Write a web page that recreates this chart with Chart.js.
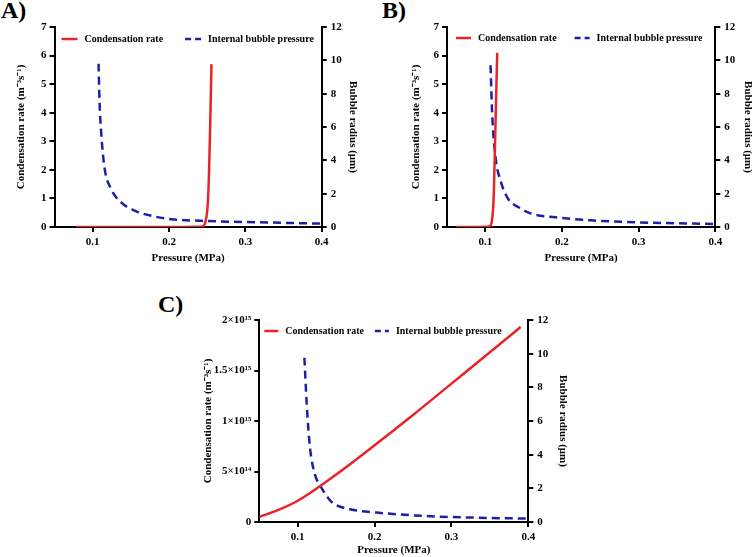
<!DOCTYPE html>
<html>
<head>
<meta charset="utf-8">
<script src="https://cdn.jsdelivr.net/npm/chart.js@4.4.1/dist/chart.umd.min.js"></script>
<style>
  body { margin: 0; width: 752px; height: 557px; overflow: hidden; background: #fff; position: relative; }
  canvas { position: absolute; }
  .tag { position: absolute; font: bold 24px "Liberation Serif", serif; color: #000; }
</style>
</head>
<body>
<div class="tag" style="left:1px;top:-3px">A)</div>
<div class="tag" style="left:382px;top:-3px">B)</div>
<div class="tag" style="left:158px;top:291px">C)</div>
<canvas id="chartA" width="376" height="270" style="left:0;top:0"></canvas>
<canvas id="chartB" width="390" height="270" style="left:376px;top:0"></canvas>
<canvas id="chartC" width="390" height="290" style="left:190px;top:270px"></canvas>
<script>
// pressure axis (MPa)
const xTicks = [0.1, 0.2, 0.3, 0.4];

// A) condensation rate and bubble radius
const aCondX = [0.078, 0.12, 0.16, 0.2, 0.235, 0.244, 0.247, 0.249, 0.251, 0.2525, 0.254, 0.2556];
const aCondY = [0, 0, 0, 0, 0.005, 0.02, 0.12, 0.35, 0.9, 2.0, 3.6, 5.7];
const aRadX = [0.1077, 0.109, 0.1113, 0.1156, 0.124, 0.137, 0.155, 0.177, 0.203, 0.242, 0.285, 0.329, 0.4];
const aRadY = [9.8, 7.5, 5.57, 3.53, 2.3, 1.49, 0.98, 0.67, 0.47, 0.37, 0.31, 0.27, 0.2];

// B)
const bCondX = [0.062, 0.09, 0.103, 0.107, 0.109, 0.111, 0.113, 0.1155];
const bCondY = [0, 0, 0.005, 0.06, 0.3, 1.1, 3.3, 6.1];
const bRadX = [0.1068, 0.109, 0.1135, 0.119, 0.1296, 0.1427, 0.16, 0.199, 0.238, 0.2987, 0.4];
const bRadY = [9.7, 6.7, 4.1, 2.9, 1.7, 1.2, 0.8, 0.55, 0.4, 0.28, 0.18];

// C)
const cCondX = [0.05, 0.075, 0.1, 0.15, 0.2, 0.25, 0.3, 0.35, 0.39];
const cCondY = [0.05e15, 0.12e15, 0.21e15, 0.47e15, 0.76e15, 1.06e15, 1.37e15, 1.68e15, 1.93e15];
const cRadX = [0.1087, 0.1117, 0.116, 0.1226, 0.1313, 0.14, 0.1465, 0.168, 0.203, 0.264, 0.329, 0.4];
const cRadY = [9.76, 7.0, 4.4, 2.8, 2.0, 1.4, 1.1, 0.76, 0.56, 0.36, 0.26, 0.2];
const cTicks = [0, 5e14, 1e15, 1.5e15, 2e15];
const cTickLabels = ['0', '5×10¹⁴', '1×10¹⁵', '1.5×10¹⁵', '2×10¹⁵'];

const FONT = "'Liberation Serif'";
const RED = '#e8242a';
const BLUE = '#1f1fa6';

const toPoints = (xs, ys) => xs.map((x, i) => ({ x: x, y: ys[i] }));

// legend drawn inside the plot, just under the top edge
const insideLegend = {
  id: 'insideLegend',
  afterDatasetsDraw(chart, args, opts) {
    const { ctx, chartArea } = chart;
    ctx.save();
    ctx.font = 'bold 10px ' + FONT;
    ctx.textBaseline = 'middle';
    let x = chartArea.left + opts.left;
    const y = chartArea.top + opts.top;
    chart.data.datasets.forEach(ds => {
      ctx.strokeStyle = ds.borderColor;
      ctx.lineWidth = ds.borderWidth;
      ctx.setLineDash(ds.borderDash ? [6, 4] : []);
      ctx.beginPath();
      ctx.moveTo(x, y);
      ctx.lineTo(x + opts.lineLen, y);
      ctx.stroke();
      ctx.setLineDash([]);
      ctx.fillStyle = '#000';
      ctx.fillText(ds.label, x + opts.lineLen + 7, y);
      x += opts.lineLen + 7 + ctx.measureText(ds.label).width + opts.spacing;
    });
    ctx.restore();
  },
};

const axisLook = {
  grid: { drawOnChartArea: false, drawTicks: true, tickLength: 5, color: '#000', lineWidth: 2 },
  border: { display: true, color: '#000', width: 2 },
};
const tickFont = { family: FONT, size: 11, weight: 'bold' };
const titleFont = { family: FONT, size: 11, weight: 'bold' };

const makeChart = (canvasEl, p) => {
  new Chart(canvasEl, {
    type: 'line',
    data: {
      datasets: [
        {
          label: 'Condensation rate',
          data: toPoints(p.condX, p.condY),
          borderColor: RED,
          borderWidth: 2.5,
          pointRadius: 0,
          cubicInterpolationMode: 'monotone',
          yAxisID: 'y',
        },
        {
          label: 'Internal bubble pressure',
          data: toPoints(p.radX, p.radY),
          borderColor: BLUE,
          borderWidth: 2.5,
          borderDash: [8, 5],
          pointRadius: 0,
          cubicInterpolationMode: 'monotone',
          yAxisID: 'y1',
        },
      ],
    },
    options: {
      responsive: false,
      animation: false,
      layout: { padding: { top: p.padTop, left: 0, right: 0, bottom: 0 } },
      plugins: {
        legend: { display: false },
        tooltip: { enabled: false },
        insideLegend: p.legend,
      },
      scales: {
        x: {
          type: 'linear',
          min: 0.05,
          max: 0.4,
          ...axisLook,
          afterBuildTicks: s => { s.ticks = xTicks.map(v => ({ value: v })); },
          afterFit: s => { s.height = p.bottomW; },
          ticks: { color: '#000', font: tickFont, padding: 4, callback: v => String(v) },
          title: { display: true, text: 'Pressure (MPa)', color: '#000', font: titleFont, padding: { top: 0, bottom: p.xTitlePad } },
        },
        y: {
          position: 'left',
          min: 0,
          max: p.leftMax,
          ...axisLook,
          afterBuildTicks: s => { s.ticks = p.leftTicks.map(v => ({ value: v })); },
          afterFit: s => { s.width = p.leftW; },
          ticks: { color: '#000', font: tickFont, padding: 3, callback: (v, i) => p.leftLabels[i] },
          title: { display: true, text: 'Condensation rate (m⁻³s⁻¹)', color: '#000', font: titleFont, padding: { top: p.leftTitlePad, bottom: 0 } },
        },
        y1: {
          position: 'right',
          min: 0,
          max: 12,
          ...axisLook,
          afterFit: s => { s.width = p.rightW; },
          ticks: { color: '#000', font: tickFont, padding: 4, stepSize: 2 },
          title: { display: true, text: 'Bubble radius (μm)', color: '#000', font: titleFont, padding: { top: p.rightTitlePad, bottom: 0 } },
        },
      },
    },
    plugins: [insideLegend],
  });
};

const smallTicks = [0, 1, 2, 3, 4, 5, 6, 7];
const smallLabels = smallTicks.map(String);

const drawAll = () => {
  makeChart(document.getElementById('chartA'), {
    condX: aCondX, condY: aCondY, radX: aRadX, radY: aRadY,
    leftMax: 7, leftTicks: smallTicks, leftLabels: smallLabels,
    padTop: 27, leftW: 54.5, rightW: 54.3, bottomW: 43,
    leftTitlePad: 15, rightTitlePad: 17, xTitlePad: 5.4,
    legend: { left: 7, top: 12, lineLen: 16, spacing: 22 },
  });

  makeChart(document.getElementById('chartB'), {
    condX: bCondX, condY: bCondY, radX: bRadX, radY: bRadY,
    leftMax: 7, leftTicks: smallTicks, leftLabels: smallLabels,
    padTop: 27, leftW: 71, rightW: 50.7, bottomW: 43,
    leftTitlePad: 33.4, rightTitlePad: 11.4, xTitlePad: 5.4,
    legend: { left: 9, top: 11, lineLen: 15, spacing: 18 },
  });

  makeChart(document.getElementById('chartC'), {
    condX: cCondX, condY: cCondY, radX: cRadX, radY: cRadY,
    leftMax: 2e15, leftTicks: cTicks, leftLabels: cTickLabels,
    padTop: 50, leftW: 69.3, rightW: 51.7, bottomW: 38,
    leftTitlePad: 11.7, rightTitlePad: 11, xTitlePad: 3.4,
    legend: { left: 5, top: 11, lineLen: 14, spacing: 11 },
  });
};

document.fonts.load("bold 12px 'Liberation Serif'").then(drawAll, drawAll);
</script>
</body>
</html>
